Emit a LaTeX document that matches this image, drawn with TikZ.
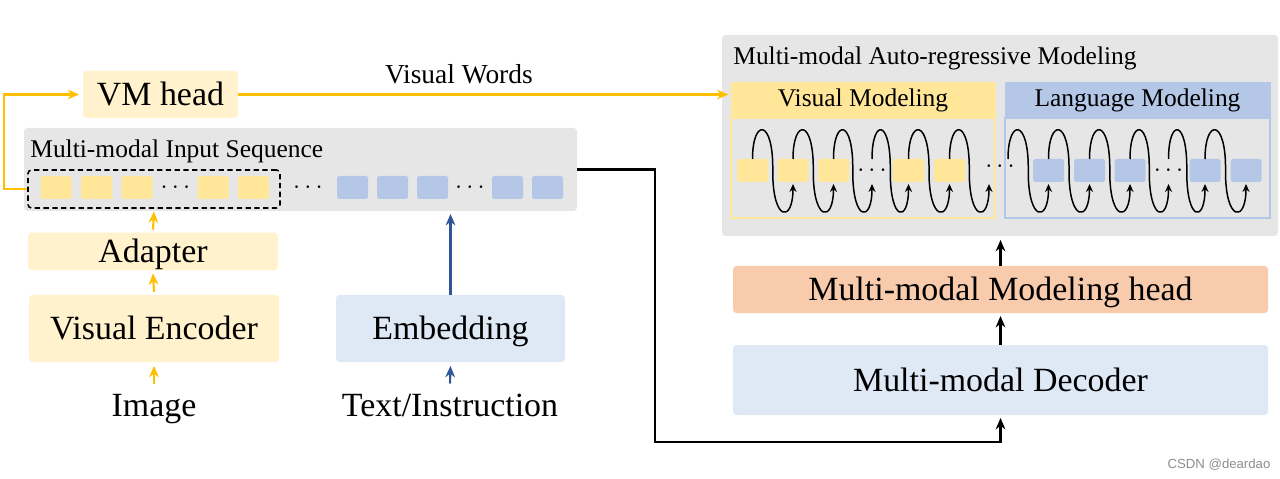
\documentclass[tikz,border=0pt]{standalone}
\usepackage{fontspec}
\setmainfont{Liberation Serif}
\setsansfont{Liberation Sans}
\usetikzlibrary{positioning,arrows.meta}
\definecolor{mmYellow}{RGB}{255,242,204}
\definecolor{mmToken}{RGB}{255,230,153}
\definecolor{mmBlue}{RGB}{222,233,245}
\definecolor{mmBlueTok}{RGB}{180,199,231}
\definecolor{mmPeach}{RGB}{248,203,173}
\definecolor{mmGray}{RGB}{230,230,230}
\definecolor{mmGold}{RGB}{255,192,0}
\definecolor{mmNavy}{RGB}{47,85,151}
\newlength\px
\setlength\px{0.02cm}
\newcommand{\lblbig}{\fontsize{19.3}{23}\selectfont}
\newcommand{\lblmid}{\fontsize{15.6}{18}\selectfont}
\newcommand{\lblsmall}{\fontsize{14.5}{17}\selectfont}
\newcommand{\lbldots}{\fontsize{13.5}{15}\selectfont}

\begin{document}
\begin{tikzpicture}[x=0.02cm, y=-0.02cm,
    box/.style={rounded corners=2pt, inner sep=0pt, font=\lblbig,
      text height=17.2pt, text depth=4.2pt},
    tok/.style={fill=mmToken, rounded corners=1pt, inner sep=0pt,
      minimum width=31\px, minimum height=23\px},
    btok/.style={tok, fill=mmBlueTok},
    yarr/.style={mmGold, line width=1.2pt, -{Stealth[length=6.5pt,width=5.5pt]}},
    barr/.style={mmNavy, line width=1.2pt, -{Stealth[length=6.5pt,width=5.5pt]}},
    karr/.style={black, line width=1.2pt, -{Stealth[length=6.5pt,width=5.5pt]}},
    arcline/.style={black, line width=0.85pt, -{Stealth[length=4.5pt,width=4pt]}}]
  \useasboundingbox (0,0) rectangle (1280,479);

  % left: input side
  \node[box, fill=mmYellow, minimum width=155\px, minimum height=47\px] (vmhead) at (160.5,94.5) {VM head};
  \node[box, fill=mmGray, minimum width=553\px, minimum height=83\px] (inseq) at (300.5,169.5) {};
  \node[anchor=west, inner sep=0pt, font=\lblsmall] (seqlbl) at (30,151) {Multi-modal Input Sequence};
  \node[draw, dash pattern=on 3pt off 2pt, line width=0.9pt, rounded corners=2pt,
    minimum width=252\px, minimum height=38\px] (dashbox) at (154,189) {};
  \foreach \x [count=\i] in {56,96.5,137,213,253.5}
    \node[tok] (itok\i) at (\x,187.5) {};
  \foreach \x [count=\i] in {352.5,392.5,432.5,507.5,547.5}
    \node[btok] (ibtok\i) at (\x,187.5) {};
  \node[font=\lbldots] (idots1) at (175.5,187.5) {$\cdots$};
  \node[font=\lbldots] (idots2) at (308,187.5) {$\cdots$};
  \node[font=\lbldots] (idots3) at (470,187.5) {$\cdots$};

  \node[box, fill=mmYellow, minimum width=250\px, minimum height=37\px] (adapter) at (153,251.5) {Adapter};
  \node[box, fill=mmYellow, minimum width=250\px, minimum height=67\px] (venc) at (154,328.5) {Visual Encoder};
  \node[box, fill=mmBlue, minimum width=229\px, minimum height=67\px] (embed) at (450.5,328.5) {Embedding};
  \node[font=\lblbig, text height=17.2pt, text depth=4.2pt] (imgtxt) at (154,405) {Image};
  \node[font=\lblbig, text height=17.2pt, text depth=4.2pt] (txtin) at (450,405) {Text/Instruction};

  \draw[yarr] ([yshift=-2pt]imgtxt.north) -- ([yshift=-2pt]venc.south);
  \draw[yarr] ([yshift=1.5pt]venc.north) -- ([yshift=-1.5pt]adapter.south);
  \draw[yarr] ([yshift=1.5pt]adapter.north) -- ([yshift=-1.5pt]dashbox.south);
  \draw[barr] ([yshift=-2pt]txtin.north) -- ([yshift=-2pt]embed.south);
  \draw[barr] (embed.north) -- ([yshift=-1.5pt]inseq.south -| embed.north);
  \draw[yarr] (dashbox.west) -- ++(-23,0) |- ([xshift=-2pt]vmhead.west);

  % right: auto-regressive part
  \node[box, fill=mmGray, minimum width=556\px, minimum height=201\px] (arbox) at (1000,135.5) {};
  \node[anchor=west, inner sep=0pt, font=\lblsmall] (arlbl) at (733,58) {Multi-modal Auto-regressive Modeling};
  \node[draw=mmToken, line width=1.1pt, minimum width=264\px, minimum height=100\px] (vmbody) at (863,168) {};
  \node[draw=mmBlueTok, line width=1.1pt, minimum width=265\px, minimum height=100\px] (lmbody) at (1137.5,168) {};
  \node[fill=mmToken, inner sep=0pt, minimum width=265\px, minimum height=36\px, font=\lblsmall] (vmhdr) at (863,100) {Visual Modeling};
  \node[fill=mmBlueTok, inner sep=0pt, minimum width=266\px, minimum height=36\px, font=\lblsmall] (lmhdr) at (1137.5,100) {Language Modeling};

  \foreach \x [count=\i] in {752.5,793,833.5,908.5,949.5}
    \node[tok] (vtok\i) at (\x,170.5) {};
  \foreach \x [count=\i] in {1048.5,1089.5,1130,1205,1246}
    \node[btok] (ltok\i) at (\x,170.5) {};
  \node[font=\lbldots] (vdots) at (872,170.5) {$\cdots$};
  \node[font=\lbldots] (mdots) at (1000,167) {$\cdots$};
  \node[font=\lbldots] (ldots) at (1168.5,170.5) {$\cdots$};

  % next-token loops
  \foreach \a/\b in {752.5/793, 793/833.5, 833.5/872, 872/908.5, 908.5/949.5, 949.5/989,
      1008/1048.5, 1048.5/1089.5, 1089.5/1130, 1130/1168.5, 1168.5/1205, 1205/1246}
    \draw[arcline] (\a,159) .. controls (\a,118) and ({(\a+\b)/2+1},118) .. ({(\a+\b)/2},172)
      .. controls ({(\a+\b)/2},222) and (\b,223) .. (\b,184);

  \node[box, fill=mmPeach, minimum width=535\px, minimum height=47\px] (mmhead) at (1000.5,289.5) {Multi-modal Modeling head};
  \node[box, fill=mmBlue, minimum width=535\px, minimum height=70\px] (decoder) at (1000.5,380) {Multi-modal Decoder};

  \draw[karr] (decoder.north) -- ([yshift=-1.5pt]mmhead.south);
  \draw[karr] (mmhead.north) -- ([yshift=-2pt]arbox.south -| mmhead.north);
  \coordinate (bend) at (655,442);
  \draw[karr] (inseq.east) -| (bend) -| ([yshift=-1.5pt]decoder.south);

  \draw[yarr] (vmhead.east) -- node[pos=0.45, above=2pt, font=\lblmid, text=black] (vwlbl) {Visual Words}
    ([xshift=-1pt]vmhdr.west |- vmhead.east);

  \node[font=\sffamily\fontsize{7.5}{9}\selectfont, text=black!45] (wmark) at (1219,465) {CSDN @deardao};
\end{tikzpicture}
\end{document}
